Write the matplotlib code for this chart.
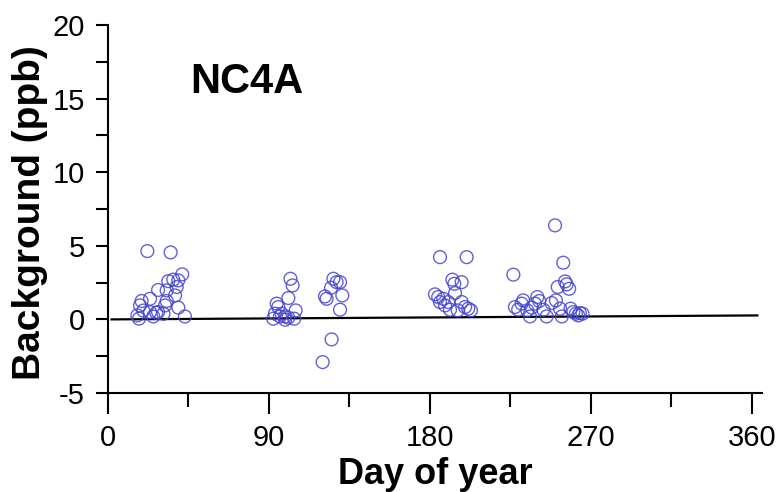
import matplotlib
matplotlib.use('Agg')
import matplotlib.pyplot as plt
from matplotlib.ticker import MultipleLocator

plt.rcParams['font.family'] = ['Liberation Sans', 'DejaVu Sans']
plt.rcParams['axes.unicode_minus'] = False

# background values, grouped by campaign
days_winter = [22, 35, 41.5, 39.3, 36.5, 33.7, 32.8, 28, 38.4, 37.5, 32.8, 23.5,
               18.8, 17.9, 39.3, 31.9, 19.7, 23.5, 28, 31, 16.4, 25.3, 43, 27, 17.3]
vals_winter = [4.64, 4.55, 3.06, 2.65, 2.7, 2.6, 1.97, 2.0, 2.2, 1.63, 1.25, 1.4,
               1.25, 0.95, 0.8, 0.95, 0.6, 0.5, 0.5, 0.38, 0.27, 0.2, 0.2, 0.45, 0.05]

days_spring = [102, 103.2, 100.8, 94.3, 95.2, 104.9, 92.4, 93.3, 97.1, 99, 100.8,
               104.1, 96.1, 99, 126, 127.8, 129.7, 124.7, 121.3, 122.2, 131, 129.7,
               125, 120]
vals_spring = [2.76, 2.31, 1.45, 1.07, 0.84, 0.61, 0.05, 0.39, 0.39, 0.2, 0.12,
               0.05, 0.2, -0.02, 2.76, 2.53, 2.53, 2.15, 1.56, 1.4, 1.63, 0.66,
               -1.36, -2.9]

days_summer = [185.6, 200.5, 192.5, 197.7, 193.6, 194, 182.8, 184.6, 187.4, 190.2,
               197.7, 185.6, 188.4, 199.6, 191.2, 195.5, 202.9, 201.4]
vals_summer = [4.23, 4.23, 2.7, 2.53, 2.42, 1.79, 1.70, 1.52, 1.40, 1.18, 1.18,
               1.18, 0.95, 0.84, 0.66, 0.61, 0.61, 0.73]

days_fall = [249.9, 254.5, 226.6, 255.5, 256.4, 257.8, 251.4, 250.4, 248, 240,
             241.1, 238.7, 232.1, 231.2, 227.5, 229.3, 234.4, 236.9, 243.4, 245.2,
             252.7, 253.7, 258.6, 260.1, 261.6, 263.8, 265.3, 262.9, 235.9]
vals_fall = [6.39, 3.85, 3.04, 2.58, 2.38, 2.08, 2.2, 1.29, 1.11, 1.52, 1.25, 1.07,
             1.29, 1.07, 0.84, 0.66, 0.61, 0.80, 0.66, 0.2, 0.73, 0.2, 0.73, 0.5,
             0.39, 0.43, 0.39, 0.27, 0.2]

# fitted trend line end points
line_days = [2, 363]
line_vals = [0.0, 0.27]

fig = plt.figure(figsize=(7.8, 4.92), dpi=100)
ax = fig.add_axes([108 / 780, 99 / 492, 654 / 780, 368 / 492])

days = days_winter + days_spring + days_summer + days_fall
vals = vals_winter + vals_spring + vals_summer + vals_fall
ax.scatter(days, vals, s=85, facecolors='none', edgecolors='#4646cc',
           linewidths=1.0, alpha=0.85, zorder=3)
ax.plot(line_days, line_vals, color='black', lw=1.6, zorder=2)

ax.set_xlim(0, 365.6)
ax.set_ylim(-5, 20)
ax.set_xticks([0, 90, 180, 270, 360])
ax.xaxis.set_minor_locator(MultipleLocator(45))
ax.yaxis.set_major_locator(MultipleLocator(5))
ax.yaxis.set_minor_locator(MultipleLocator(2.5))

for side in ('top', 'right'):
    ax.spines[side].set_visible(False)
for side in ('left', 'bottom'):
    ax.spines[side].set_linewidth(1.5)

ax.tick_params(axis='x', which='major', length=15, width=1.5, pad=7, labelsize=21)
ax.tick_params(axis='x', which='minor', length=10, width=1.5)
ax.tick_params(axis='y', which='both', length=8.6, width=1.5, pad=8, labelsize=21)

ax.text(46, 15.4, 'NC4A', fontsize=30, fontweight='bold', va='baseline')

fig.text(435 / 780, 1 - 484 / 492, 'Day of year', fontsize=26, fontweight='bold',
         ha='center', va='baseline')
fig.text(30 / 780, 1 - 213 / 492, 'Background (ppb)', fontsize=28,
         fontweight='bold', rotation=90, ha='center', va='center')

fig.savefig('out.png', dpi=100)
